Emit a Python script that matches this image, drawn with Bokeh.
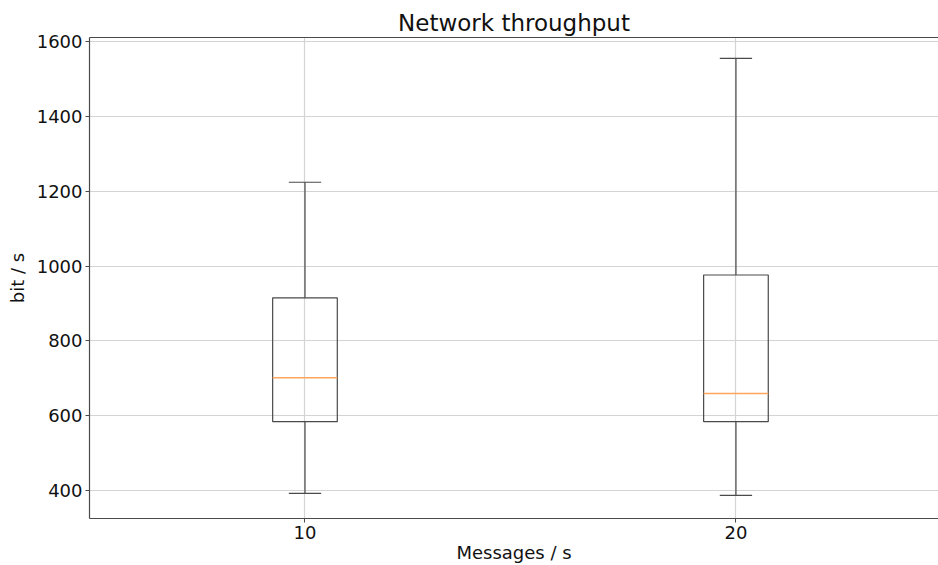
from bokeh.plotting import figure
from bokeh.models import Range1d, FixedTicker, LinearAxis, Title
from bokeh.embed import file_html
from bokeh.resources import INLINE

# Data
categories = ["10", "20"]
positions = [1, 2]
q1 = [584, 584]
q3 = [915, 976]
medians = [701, 659]
whisker_low = [392, 387]
whisker_high = [1224, 1555]
y_ticks = [400, 600, 800, 1000, 1200, 1400, 1600]

box_w = 0.15
cap_w = 0.075
FONT = "DejaVu Sans"
LINE = "#4a4a4a"

p = figure(width=938, height=565, output_backend="svg", toolbar_location=None,
           x_range=Range1d(0.5, 2.47), y_range=Range1d(325, 1611),
           min_border_left=89, min_border_right=0, min_border_top=37, min_border_bottom=47)
p.title = Title(text="Network throughput", align="center", text_font=FONT,
                text_font_size="23px", text_font_style="normal", text_color="#111111",
                standoff=4)
p.outline_line_color = None
p.background_fill_color = "white"

# axes
for ax in (p.xaxis[0], p.yaxis[0]):
    ax.axis_line_color = LINE
    ax.axis_line_width = 1.2
    ax.major_tick_line_color = LINE
    ax.major_tick_out = 4
    ax.major_tick_in = 0
    ax.minor_tick_line_color = None
    ax.major_label_text_font = FONT
    ax.major_label_text_font_size = "18px"
    ax.major_label_text_color = "#111111"
    ax.major_label_standoff = 3
    ax.axis_label_text_font = FONT
    ax.axis_label_text_font_size = "18px"
    ax.axis_label_text_font_style = "normal"
    ax.axis_label_text_color = "#111111"

p.xaxis.ticker = FixedTicker(ticks=positions)
p.xaxis.major_label_overrides = {pos: c for pos, c in zip(positions, categories)}
p.xaxis.axis_label = "Messages / s"
p.xaxis.axis_label_standoff = 0
p.yaxis.ticker = FixedTicker(ticks=y_ticks)
p.yaxis.axis_label = "bit / s"
p.yaxis.axis_label_standoff = 6

top = LinearAxis(ticker=FixedTicker(ticks=[]), axis_line_color=LINE, axis_line_width=1.2,
                 major_tick_line_color=None, minor_tick_line_color=None,
                 major_label_text_font_size="0px", major_label_standoff=0,
                 major_tick_out=0)
p.add_layout(top, "above")

p.xgrid.ticker = FixedTicker(ticks=positions)
p.ygrid.ticker = FixedTicker(ticks=y_ticks)
for g in (p.xgrid[0], p.ygrid[0]):
    g.grid_line_color = "#d4d4d4"
    g.grid_line_width = 1.2

# whiskers
p.segment(x0=positions, y0=q3, x1=positions, y1=whisker_high, line_color=LINE, line_width=1.2)
p.segment(x0=positions, y0=q1, x1=positions, y1=whisker_low, line_color=LINE, line_width=1.2)
# caps
p.segment(x0=[x - cap_w / 2 for x in positions], y0=whisker_high,
          x1=[x + cap_w / 2 for x in positions], y1=whisker_high, line_color=LINE, line_width=1.2)
p.segment(x0=[x - cap_w / 2 for x in positions], y0=whisker_low,
          x1=[x + cap_w / 2 for x in positions], y1=whisker_low, line_color=LINE, line_width=1.2)
# boxes
p.quad(left=[x - box_w / 2 for x in positions], right=[x + box_w / 2 for x in positions],
       bottom=q1, top=q3, fill_color=None, line_color=LINE, line_width=1.2)
# medians
p.segment(x0=[x - box_w / 2 for x in positions], y0=medians,
          x1=[x + box_w / 2 for x in positions], y1=medians, line_color="#ffa65c", line_width=1.5)

open("out.html", "w").write(file_html(p, INLINE))
